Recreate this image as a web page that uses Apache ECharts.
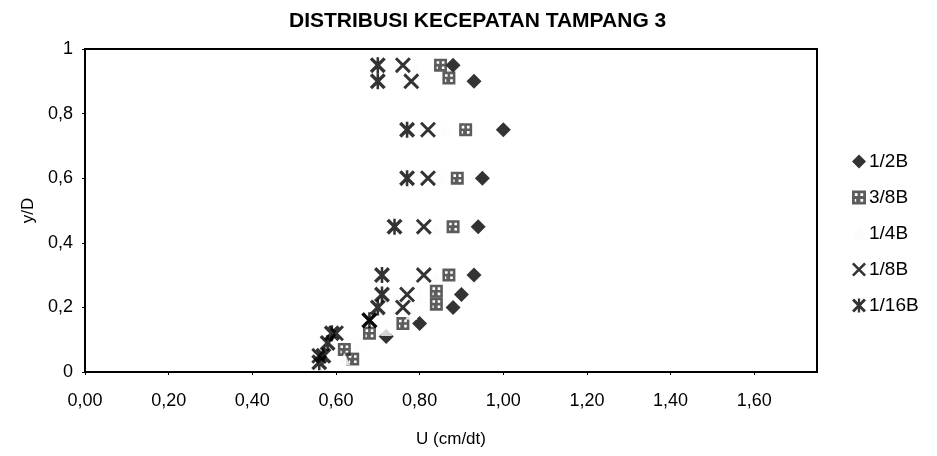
<!DOCTYPE html>
<html>
<head>
<meta charset="utf-8">
<script src="https://cdn.jsdelivr.net/npm/echarts@6/dist/echarts.min.js"></script>
<style>
  html, body { margin: 0; padding: 0; background: #fff; }
  #chart { width: 937px; height: 456px; }
</style>
</head>
<body>
<div id="chart"></div>
<script>
// Velocity distribution, cross-section 3: U (cm/dt) against relative depth y/D
const seriesNames = ['1/2B', '3/8B', '1/4B', '1/8B', '1/16B'];

const ydHalf = [0.95, 0.90, 0.75, 0.60, 0.45, 0.30, 0.24, 0.20, 0.15, 0.11];
const uHalf  = [0.88, 0.93, 1.00, 0.95, 0.94, 0.93, 0.90, 0.88, 0.80, 0.72];

const ydThreeEighth = [0.95, 0.91, 0.75, 0.60, 0.45, 0.30, 0.25, 0.21, 0.15, 0.12, 0.07, 0.04];
const uThreeEighth  = [0.85, 0.87, 0.91, 0.89, 0.88, 0.87, 0.84, 0.84, 0.76, 0.68, 0.62, 0.64];

const ydQuarter = [0.94, 0.75, 0.60, 0.45, 0.30, 0.23, 0.18, 0.13, 0.08, 0.04];
const uQuarter  = [0.79, 0.86, 0.85, 0.84, 0.84, 0.80, 0.78, 0.72, 0.65, 0.62];

const ydEighth = [0.95, 0.90, 0.75, 0.60, 0.45, 0.30, 0.24, 0.20, 0.16, 0.12, 0.05];
const uEighth  = [0.76, 0.78, 0.82, 0.82, 0.81, 0.81, 0.77, 0.76, 0.68, 0.60, 0.56];

const ydSixteenth = [0.95, 0.90, 0.75, 0.60, 0.45, 0.30, 0.24, 0.20, 0.16, 0.12, 0.09, 0.05, 0.03];
const uSixteenth  = [0.70, 0.70, 0.77, 0.77, 0.74, 0.71, 0.71, 0.70, 0.68, 0.59, 0.58, 0.57, 0.56];

const xTickLabels = ['0,00', '0,20', '0,40', '0,60', '0,80', '1,00', '1,20', '1,40', '1,60'];
const yTickLabels = ['0', '0,2', '0,4', '0,6', '0,8', '1'];

function pairs(u, yd) { return u.map((v, i) => [v, yd[i]]); }

const FONT = '"Liberation Sans", Arial, sans-serif';

// marker shapes
const SYM_X = 'path://M0,1.3L1.3,0L10,8.7L8.7,10Z M8.7,0L10,1.3L1.3,10L0,8.7Z';
const SYM_STAR = 'path://M4.2,0h1.6v10h-1.6Z M0,1.5L1.5,0L10,8.5L8.5,10Z M8.5,0L10,1.5L1.5,10L0,8.5Z';
const SYM_HATCH = 'path://M0,0h10v2h-10Z M0,4h10v2h-10Z M0,8h10v2h-10Z M0,0h2v10h-2Z M8,0h2v10h-2Z M4,2h2v2h-2Z M3,6h3v2h-3Z';

const chart = echarts.init(document.getElementById('chart'), null, { renderer: 'canvas' });

chart.setOption({
  animation: false,
  backgroundColor: '#ffffff',
  textStyle: { fontFamily: FONT, color: '#000' },
  title: {
    text: 'DISTRIBUSI KECEPATAN TAMPANG 3',
    left: 284, top: 6,
    textStyle: { fontFamily: FONT, fontSize: 21, fontWeight: 'bold', color: '#000' }
  },
  grid: {
    left: 85, right: 120, top: 49, bottom: 84,
    show: true, borderColor: '#000', borderWidth: 2, backgroundColor: 'transparent'
  },
  legend: {
    orient: 'vertical',
    left: 847, top: 147,
    itemWidth: 14, itemHeight: 14, itemGap: 17,
    textStyle: { fontFamily: FONT, fontSize: 19, color: '#000', padding: [0, 0, 0, -2] },
    data: seriesNames
  },
  xAxis: {
    type: 'value', min: 0, max: 1.75, interval: 0.2,
    name: 'U (cm/dt)', nameLocation: 'middle', nameGap: 59,
    nameTextStyle: { fontFamily: FONT, fontSize: 17, color: '#000' },
    axisLine: { show: true, lineStyle: { color: '#000', width: 2 } },
    axisTick: { show: true, inside: false, length: 3, lineStyle: { color: '#000' } },
    splitLine: { show: false },
    axisLabel: {
      margin: 20, fontFamily: FONT, fontSize: 18, color: '#000',
      showMaxLabel: false,
      formatter: v => {
        const i = Math.round(v / 0.2);
        return Math.abs(v - i * 0.2) < 1e-6 && i < xTickLabels.length ? xTickLabels[i] : '';
      }
    }
  },
  yAxis: {
    type: 'value', min: 0, max: 1, interval: 0.2,
    name: 'y/D', nameLocation: 'middle', nameGap: 40, nameRotate: 90,
    nameTextStyle: { fontFamily: FONT, fontSize: 17, color: '#000' },
    axisLine: { show: true, lineStyle: { color: '#000', width: 2 } },
    axisTick: { show: true, inside: false, length: 3, lineStyle: { color: '#000' } },
    splitLine: { show: false },
    axisLabel: {
      margin: 12, fontFamily: FONT, fontSize: 18, color: '#000',
      formatter: v => yTickLabels[Math.round(v / 0.2)]
    }
  },
  series: [
    {
      name: '1/2B', type: 'scatter', symbol: 'diamond', symbolSize: 15,
      itemStyle: { color: '#000' }, data: pairs(uHalf, ydHalf)
    },
    {
      name: '3/8B', type: 'scatter', symbol: SYM_HATCH, symbolSize: 13,
      itemStyle: { color: '#333' }, data: pairs(uThreeEighth, ydThreeEighth)
    },
    {
      name: '1/4B', type: 'scatter', symbol: 'triangle', symbolSize: 12,
      itemStyle: { color: '#fbfbfb' }, data: pairs(uQuarter, ydQuarter)
    },
    {
      name: '1/8B', type: 'scatter', symbol: SYM_X, symbolSize: 16,
      itemStyle: { color: '#000' }, data: pairs(uEighth, ydEighth)
    },
    {
      name: '1/16B', type: 'scatter', symbol: SYM_STAR, symbolSize: 16,
      itemStyle: { color: '#000' }, data: pairs(uSixteenth, ydSixteenth)
    }
  ]
});
</script>
</body>
</html>
